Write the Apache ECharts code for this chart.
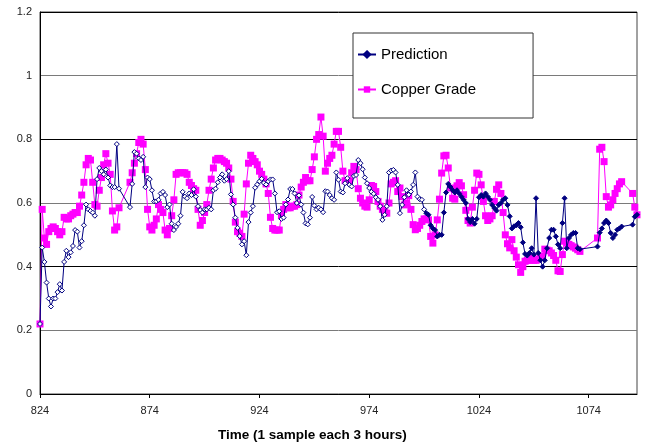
<!DOCTYPE html>
<html>
<head>
<meta charset="utf-8">
<script src="https://cdn.jsdelivr.net/npm/echarts@6/dist/echarts.min.js"></script>
<style>
  html, body { margin: 0; padding: 0; background: #fff; }
  #chart { width: 646px; height: 444px; }
</style>
</head>
<body>
<div id="chart"></div>
<script>
// Samples 824 .. 1096, one every 3 hours. Ticks every 50 samples.
const firstSample = 824
const sampleCount = 273
const yTicks = [0, 0.2, 0.4, 0.6, 0.8, 1, 1.2]

// Null = no point drawn (line is bridged).
const copperGrade = [
  0.22, 0.58, 0.49, 0.47, 0.51, 0.52, 0.525, 0.52, 0.51, 0.50,
  0.51, 0.555, 0.55, 0.55, 0.56, 0.565, 0.57, 0.57, 0.59, 0.625,
  0.665, 0.72, 0.74, 0.735, 0.665, 0.595, 0.59, 0.64, 0.68, 0.72,
  0.755, 0.725, 0.69, 0.575, 0.515, 0.525, 0.585, null, null, null,
  null, 0.665, 0.695, 0.725, 0.755, 0.79, 0.80, 0.785, 0.705, 0.58,
  0.525, 0.515, 0.53, 0.55, 0.595, 0.58, 0.57, 0.515, 0.50, 0.52,
  0.56, 0.61, 0.69, 0.695, 0.695, 0.695, 0.695, 0.69, 0.665, 0.655,
  0.645, 0.64, 0.58, 0.53, 0.545, 0.57, 0.595, 0.64, 0.675, 0.71,
  0.735, 0.74, 0.74, 0.735, 0.73, 0.725, 0.71, 0.675, 0.605, 0.54,
  0.51, 0.505, 0.495, 0.565, 0.66, 0.725, 0.75, 0.74, 0.73, 0.72,
  0.70, 0.69, 0.675, 0.66, 0.63, 0.555, 0.52, 0.515, 0.515, 0.515,
  0.56, 0.58, 0.595, 0.585, 0.585, 0.59, 0.59, 0.595, 0.625, 0.65,
  0.665, 0.68, 0.67, 0.67, 0.705, 0.745, 0.80, 0.815, 0.87, 0.81,
  0.70, 0.725, 0.74, 0.75, 0.785, 0.825, 0.825, 0.775, 0.70, 0.67,
  0.668, 0.67, 0.695, 0.715, 0.705, 0.645, 0.615, 0.60, 0.59, 0.587,
  0.61, 0.655, 0.652, 0.636, 0.605, 0.59, 0.58, 0.57, 0.568, 0.60,
  0.66, 0.665, 0.67, 0.636, 0.647, 0.62, 0.594, 0.60, 0.623, 0.58,
  0.532, 0.516, 0.52, 0.53, 0.542, 0.55, 0.55, 0.547, 0.495, 0.474,
  0.50, 0.547, 0.612, 0.694, 0.748, 0.75, 0.71, 0.647, 0.615, 0.612,
  0.654, 0.664, 0.654, 0.626, 0.577, 0.545, 0.537, 0.587, 0.64, 0.694,
  0.69, 0.657, 0.605, 0.56, 0.545, 0.55, 0.56, 0.605, 0.643, 0.657,
  0.63, 0.57, 0.50, 0.472, 0.459, 0.485, 0.45, 0.43, 0.406, 0.382,
  0.40, 0.417, 0.42, 0.42, 0.427, 0.42, 0.42, 0.424, 0.43, 0.433,
  0.455, 0.452, 0.45, 0.443, 0.435, 0.42, 0.387, 0.385, 0.438, 0.48,
  0.474, 0.47, 0.466, 0.462, 0.458, 0.453, 0.448, null, null, null,
  null, null, null, null, 0.49, 0.769, 0.775, 0.73, 0.62, 0.587,
  0.594, 0.61, 0.63, 0.645, 0.66, 0.667, null, null, null, null,
  0.63, 0.587, 0.563
]

const prediction = [
  0.22, 0.46, 0.415, 0.35, 0.30, 0.275, 0.30, 0.30, 0.32, 0.345,
  0.325, 0.415, 0.45, 0.43, 0.445, 0.465, 0.515, 0.51, 0.46, 0.48,
  0.53, 0.595, 0.58, 0.575, 0.57, 0.56, 0.675, 0.71, 0.70, 0.69,
  0.705, 0.68, 0.655, 0.65, 0.65, 0.785, 0.645, null, null, null,
  null, 0.587, 0.66, 0.76, 0.755, 0.74, 0.735, 0.745, 0.65, 0.68,
  0.675, 0.64, 0.605, 0.605, 0.61, 0.63, 0.635, 0.625, 0.587, 0.595,
  0.535, 0.515, 0.525, 0.535, 0.56, 0.635, 0.62, 0.615, 0.63, 0.625,
  0.643, 0.62, 0.59, 0.578, 0.57, 0.58, 0.58, 0.585, 0.58, 0.64,
  0.645, 0.665, 0.68, 0.69, 0.67, 0.675, 0.70, 0.627, 0.595, 0.554,
  0.522, 0.496, 0.47, 0.48, 0.436, 0.54, 0.57, 0.59, 0.648, 0.658,
  0.668, 0.676, 0.663, 0.658, 0.668, 0.674, 0.674, 0.63, 0.571, 0.574,
  0.55, 0.554, 0.595, 0.611, 0.644, 0.644, 0.63, 0.60, 0.624, 0.595,
  0.57, 0.536, 0.533, 0.554, 0.619, 0.592, 0.58, 0.585, 0.58, 0.571,
  0.637, 0.636, 0.625, 0.615, 0.61, 0.696, 0.673, 0.636, 0.633, 0.662,
  0.678, 0.657, 0.652, 0.685, 0.688, 0.735, 0.725, 0.706, 0.68, 0.662,
  0.647, 0.635, 0.629, 0.618, 0.61, 0.59, 0.547, 0.563, 0.59, 0.696,
  0.702, 0.704, 0.696, 0.657, 0.568, 0.594, 0.618, 0.64, 0.626, 0.636,
  0.657, 0.696, 0.62, 0.612, 0.61, 0.58, 0.568, 0.563, 0.53, 0.52,
  0.515, 0.495, 0.50, 0.50, 0.57, 0.633, 0.66, 0.65, 0.64, 0.633,
  0.64, 0.63, 0.62, 0.61, 0.60, 0.55, 0.54, 0.55, 0.535, 0.55,
  0.618, 0.625, 0.62, 0.63, 0.62, 0.61, 0.594, 0.584, 0.576, 0.594,
  0.60, 0.61, 0.615, 0.594, 0.558, 0.52, 0.527, 0.53, 0.537, 0.524,
  0.476, 0.44, 0.435, 0.443, 0.458, 0.438, 0.615, 0.443, 0.42, 0.40,
  0.42, 0.458, 0.49, 0.516, 0.516, 0.495, 0.47, 0.458, 0.537, 0.615,
  0.458, 0.49, 0.50, 0.506, 0.506, 0.458, 0.455, null, null, null,
  null, null, null, null, 0.463, 0.507, 0.52, 0.537, 0.545, 0.537,
  0.506, 0.49, 0.50, 0.516, 0.52, 0.526, null, null, null, null,
  0.532, 0.557, 0.563
]

// prediction markers are drawn hollow up to this sample index, filled after
const hollowUntil = 176

const NAVY = '#000080'
const MAGENTA = '#ff00ff'
const FONT = 'Liberation Sans, Arial, sans-serif'

const categories = []
for (let i = 0; i < sampleCount; i++) categories.push(String(firstSample + i))

const predictionData = prediction.map(function (v, i) {
  if (v == null) return '-'
  if (i < hollowUntil) return { value: v, itemStyle: { color: '#fff' } }
  return v
})
const copperData = copperGrade.map(function (v) { return v == null ? '-' : v })

const chart = echarts.init(document.getElementById('chart'))
chart.setOption({
  animation: false,
  backgroundColor: '#fff',
  title: {
    text: 'Time (1 sample each 3 hours)',
    left: 218,
    top: 428,
    padding: 0,
    textStyle: { fontFamily: FONT, fontSize: 13.5, fontWeight: 'bold', color: '#000' }
  },
  grid: {
    left: 40, right: 9, top: 12, bottom: 50,
    show: true, borderColor: '#444', borderWidth: 1, backgroundColor: 'transparent'
  },
  legend: {
    orient: 'vertical',
    left: 353,
    top: 33,
    padding: [14, 57, 21, 4],
    itemGap: 20,
    itemWidth: 18,
    itemHeight: 8,
    backgroundColor: '#fff',
    borderColor: '#333',
    borderWidth: 1,
    textStyle: { fontFamily: FONT, fontSize: 15, color: '#000' },
    data: ['Prediction', 'Copper Grade']
  },
  xAxis: {
    type: 'category',
    data: categories,
    boundaryGap: false,
    axisLine: { lineStyle: { color: '#000', width: 1 } },
    axisTick: { show: true, interval: 49, length: 4, lineStyle: { color: '#000' } },
    axisLabel: { interval: 49, margin: 11, fontFamily: FONT, fontSize: 11, color: '#222' },
    splitLine: { show: false }
  },
  yAxis: {
    type: 'value',
    min: yTicks[0],
    max: yTicks[yTicks.length - 1],
    interval: 0.2,
    axisLine: { show: true, lineStyle: { color: '#000', width: 1 } },
    axisTick: { show: false },
    axisLabel: { margin: 8, fontFamily: FONT, fontSize: 11, color: '#222' },
    splitLine: { show: true, lineStyle: { color: ['#000', '#7a7a7a'], width: 1 } }
  },
  series: [
    {
      name: 'Prediction',
      type: 'line',
      data: predictionData,
      connectNulls: true,
      showAllSymbol: true,
      symbol: 'diamond',
      symbolSize: 5,
      z: 3,
      lineStyle: { color: NAVY, width: 1 },
      itemStyle: { color: NAVY, borderColor: NAVY, borderWidth: 1 }
    },
    {
      name: 'Copper Grade',
      type: 'line',
      data: copperData,
      connectNulls: true,
      showAllSymbol: true,
      symbol: 'rect',
      symbolSize: 7,
      z: 2,
      lineStyle: { color: MAGENTA, width: 1 },
      itemStyle: { color: MAGENTA, borderColor: MAGENTA, borderWidth: 0 }
    }
  ]
})
</script>
</body>
</html>
